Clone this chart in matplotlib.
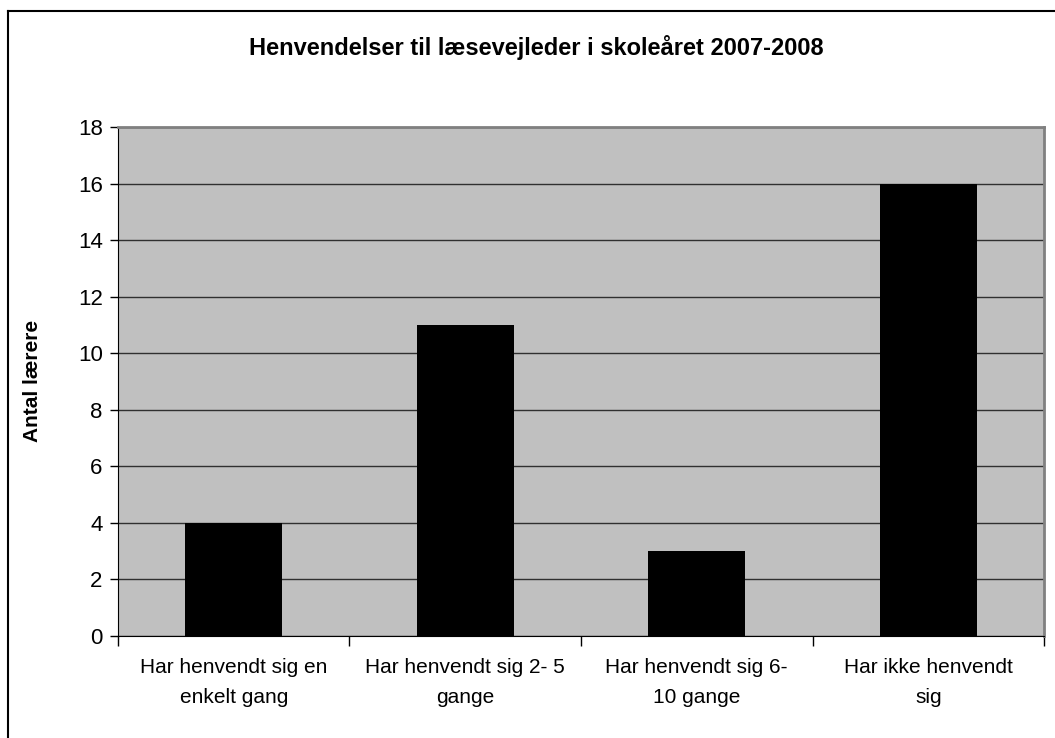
import matplotlib.pyplot as plt
import numpy as np
from matplotlib.lines import Line2D

categories = [
    "Har henvendt sig en\nenkelt gang",
    "Har henvendt sig 2- 5\ngange",
    "Har henvendt sig 6-\n10 gange",
    "Har ikke henvendt\nsig",
]
values = [4, 11, 3, 16]
y_ticks = [0, 2, 4, 6, 8, 10, 12, 14, 16, 18]

plt.rcParams["font.family"] = ["Liberation Sans", "DejaVu Sans"]

fig = plt.figure(figsize=(10.55, 7.38), dpi=100)
ax = fig.add_axes([0.1118, 0.1385, 0.8778, 0.6894])

x = np.arange(len(categories))
ax.bar(x, values, width=0.42, color="black", zorder=3)

ax.set_facecolor("#C0C0C0")
ax.set_xlim(-0.5, len(categories) - 0.5)
ax.set_ylim(0, 18)
ax.set_yticks(y_ticks)
ax.yaxis.grid(True, color="#303030", linewidth=1.0, zorder=1)
ax.set_axisbelow(True)

ax.set_xticks(x)
ax.set_xticklabels(categories, fontsize=15, linespacing=1.75)
ax.tick_params(axis="x", length=0, pad=16)
ax.set_xticks(np.arange(len(categories) + 1) - 0.5, minor=True)
ax.tick_params(axis="x", which="minor", length=7, width=1, color="black")
ax.tick_params(axis="y", labelsize=16, length=6, width=1, color="black", pad=5)

for side in ("top", "right"):
    ax.spines[side].set_color("#808080")
    ax.spines[side].set_linewidth(2)
ax.spines["left"].set_color("black")
ax.spines["bottom"].set_color("black")

ax.set_ylabel("Antal lærere", fontsize=15, fontweight="bold", labelpad=26)
fig.text(0.508, 0.935, "Henvendelser til læsevejleder i skoleåret 2007-2008",
         ha="center", va="center", fontsize=17, fontweight="bold")

# outer chart border (only left/top visible in the reference crop)
fig.add_artist(Line2D([0.008, 0.008], [0, 0.985], color="black", lw=1.5,
                      transform=fig.transFigure))
fig.add_artist(Line2D([0.008, 1.0], [0.985, 0.985], color="black", lw=1.5,
                      transform=fig.transFigure))

fig.savefig("out.png", dpi=100)
